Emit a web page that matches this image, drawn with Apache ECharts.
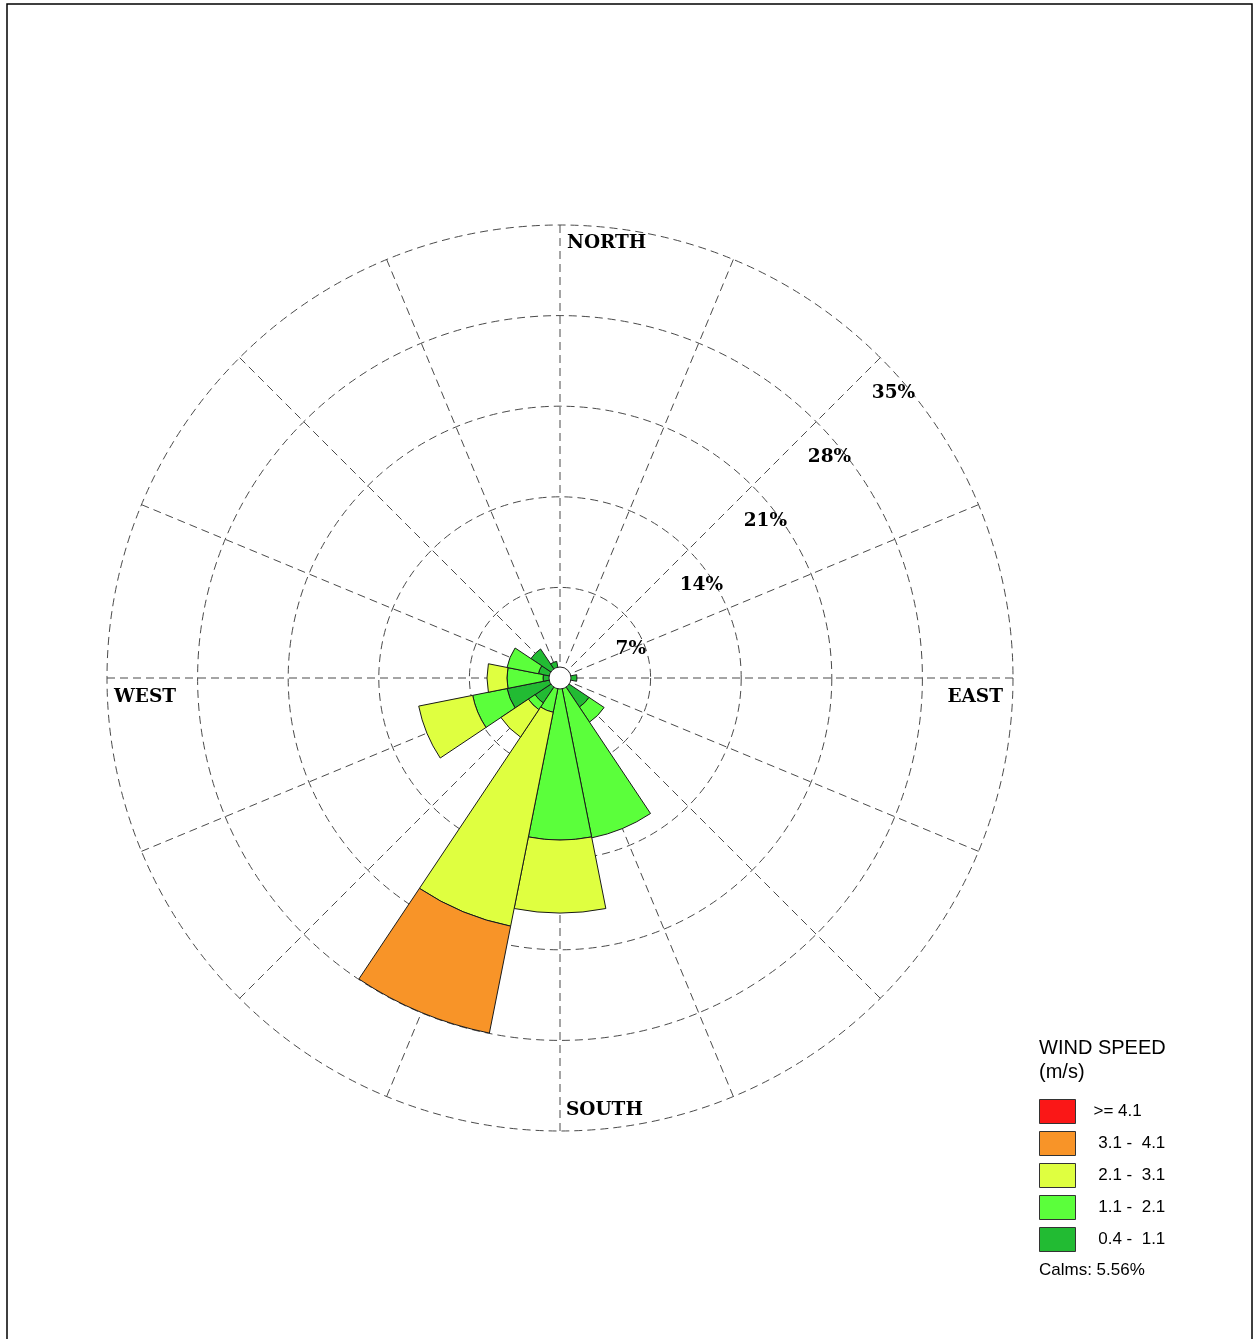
<!DOCTYPE html>
<html><head><meta charset="utf-8">
<script src="https://cdn.jsdelivr.net/npm/echarts@6/dist/echarts.min.js"></script>
<style>html,body{margin:0;padding:0;background:#fff}#chart{width:1255px;height:1339px}</style>
</head><body><div id="chart"></div>
<script>
// ---- data ----
const directions = ['N','NNE','NE','ENE','E','ESE','SE','SSE','S','SSW','SW','WSW','W','WNW','NW','NNW'];
const speedClasses = [' 0.4 -  1.1', ' 1.1 -  2.1', ' 2.1 -  3.1', ' 3.1 -  4.1', '>= 4.1'];
const classColors = ['#22bb33', '#5bff3b', '#dfff40', '#f89428', '#fa1717'];
const freq_04_11 = [0,0,0,0,1.31,0,2.70,0.80,0.80,0.80,2.32,4.17,1.31,1.70,2.70,1.31];
const freq_11_21 = [0,0,0,0,0,0,1.40,11.79,11.72,1.90,0.62,2.71,2.79,2.47,0,0];
const freq_21_31 = [0,0,0,0,0,0,0,0,5.64,16.85,2.55,4.25,1.54,0,0,0];
const freq_31_41 = [0,0,0,0,0,0,0,0,0,8.42,0,0,0,0,0,0];
const freq_ge_41 = [0,0,0,0,0,0,0,0,0,0,0,0,0,0,0,0];
const calmsPercent = 5.56;
const ringValues = [7,14,21,28,35];
const ringLabels = ['7%','14%','21%','28%','35%'];
const compassLabels = ['NORTH','EAST','SOUTH','WEST'];
const legendTitle = ['WIND SPEED', '(m/s)'];

// ---- layout ----
const CX = 560, CY = 678, R = 453;
const serif = 'DejaVu Serif';
const sans = 'Liberation Sans';

const classData = [freq_04_11, freq_11_21, freq_21_31, freq_31_41, freq_ge_41];
const barSeries = classData.map((arr, i) => ({
  type: 'bar', name: speedClasses[i], coordinateSystem: 'polar', polarIndex: 0,
  stack: 'rose', barCategoryGap: '0%',
  data: arr.map(v => v > 0 ? v : '-'),
  itemStyle: { color: classColors[i], borderColor: '#1a1a1a', borderWidth: 1 },
  emphasis: { disabled: true }, silent: true, z: 3
}));

const chart = echarts.init(document.getElementById('chart'), null, { renderer: 'canvas' });
const dash = { type: [8, 5], color: '#4a4a4a', width: 1 };
chart.setOption({
  animation: false,
  backgroundColor: '#fff',
  polar: [
    { center: [CX, CY], radius: R },
    { center: [CX, CY], radius: R }
  ],
  angleAxis: [
    { polarIndex: 0, type: 'category', data: directions, startAngle: 90 + 180 / directions.length, clockwise: true,
      boundaryGap: true, axisLine: { show: false }, axisTick: { show: false }, axisLabel: { show: false },
      splitLine: { show: false } },
    { polarIndex: 1, type: 'value', min: 0, max: 360, interval: 360 / directions.length, startAngle: 45,
      axisLine: { show: false }, axisTick: { show: false }, axisLabel: { show: false },
      splitLine: { show: true, lineStyle: dash } }
  ],
  radiusAxis: [
    { polarIndex: 0, type: 'value', min: 0, max: ringValues[ringValues.length - 1],
      axisLine: { show: false }, axisTick: { show: false }, axisLabel: { show: false }, splitLine: { show: false } },
    { polarIndex: 1, type: 'value', min: 0, max: ringValues[ringValues.length - 1], interval: ringValues[0],
      axisLine: { show: false }, axisTick: { show: false },
      axisLabel: { show: true, margin: 12, rotate: 0, align: 'left', verticalAlign: 'top', padding: [34, 0, 0, 0],
        fontFamily: serif, fontWeight: 'bold', fontSize: 18.5, color: '#000',
        formatter: v => { const k = ringValues.indexOf(v); return k >= 0 ? ringLabels[k] : ''; } },
      splitLine: { show: true, lineStyle: dash } }
  ],
  legend: {
    orient: 'vertical', left: 1039, top: 1099, itemWidth: 36, itemHeight: 24, itemGap: 7, padding: 0,
    icon: 'rect', selectedMode: false,
    data: speedClasses.slice().reverse(),
    itemStyle: { borderColor: '#333', borderWidth: 1 },
    textStyle: { fontFamily: sans, fontSize: 17, color: '#000', padding: [2, 0, 0, 13] }
  },
  series: barSeries.concat([{
    type: 'pie', center: [CX, CY], radius: [0, 11], silent: true, z: 10,
    label: { show: false }, labelLine: { show: false },
    data: [{ value: calmsPercent, name: 'Calms' }],
    itemStyle: { color: '#fff', borderColor: '#222', borderWidth: 1 }
  }]),
  graphic: [
    { type: 'rect', shape: { x: 7, y: 4, width: 1245, height: 1345 }, style: { fill: 'none', stroke: '#000', lineWidth: 1.5 }, silent: true },
    { type: 'text', x: CX + 7, y: CY - R + 18, style: { text: compassLabels[0], font: `bold 18.5px "${serif}"`, fill: '#000', textAlign: 'left', textVerticalAlign: 'middle' } },
    { type: 'text', x: CX + R - 10, y: CY + 19, style: { text: compassLabels[1], font: `bold 18.5px "${serif}"`, fill: '#000', textAlign: 'right', textVerticalAlign: 'middle' } },
    { type: 'text', x: CX + 6, y: CY + R - 21, style: { text: compassLabels[2], font: `bold 18.5px "${serif}"`, fill: '#000', textAlign: 'left', textVerticalAlign: 'middle' } },
    { type: 'text', x: CX - R + 7, y: CY + 19, style: { text: compassLabels[3], font: `bold 18.5px "${serif}"`, fill: '#000', textAlign: 'left', textVerticalAlign: 'middle' } },
    { type: 'text', x: 1039, y: 1048, style: { text: legendTitle[0], font: `20px "${sans}"`, fill: '#000', textAlign: 'left', textVerticalAlign: 'middle' } },
    { type: 'text', x: 1039, y: 1072, style: { text: legendTitle[1], font: `20px "${sans}"`, fill: '#000', textAlign: 'left', textVerticalAlign: 'middle' } },
    { type: 'text', x: 1039, y: 1270, style: { text: 'Calms: ' + calmsPercent.toFixed(2) + '%', font: `17px "${sans}"`, fill: '#000', textAlign: 'left', textVerticalAlign: 'middle' } }
  ]
});
</script></body></html>
